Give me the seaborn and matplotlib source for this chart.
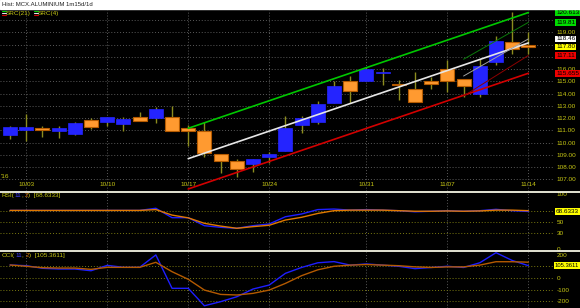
import numpy as np
import pandas as pd
import matplotlib
matplotlib.use("Agg")
import matplotlib.pyplot as plt
import seaborn as sns
from matplotlib.lines import Line2D
from matplotlib.patches import Rectangle
import matplotlib.transforms as mtrans

# ---------------- data ----------------
dates = ["09/30", "10/03", "10/04", "10/05", "10/06", "10/07", "10/10", "10/11", "10/12",
         "10/13", "10/14", "10/17", "10/18", "10/19", "10/20", "10/21", "10/24", "10/25",
         "10/26", "10/27", "10/28", "10/30", "10/31", "11/01", "11/02", "11/03", "11/04",
         "11/07", "11/08", "11/09", "11/10", "11/11", "11/14"]
opens = [110.62, 111.03, 111.19, 110.94, 110.72, 111.84, 111.68, 111.49, 112.06, 111.98, 112.06,
         111.19, 110.97, 109.04, 108.52, 108.22, 108.82, 109.31, 111.41, 111.70, 113.23, 115.00,
         115.00, 115.65, 114.80, 114.35, 115.02, 116.00, 115.16, 113.99, 116.60, 118.23, 117.90]
highs = [111.37, 112.33, 111.37, 111.35, 111.68, 112.00, 112.09, 112.11, 112.49, 112.93, 112.98,
         111.40, 111.70, 109.06, 108.68, 108.68, 109.23, 112.17, 112.17, 113.42, 115.05, 115.46,
         116.19, 116.11, 115.10, 115.73, 115.38, 116.74, 115.16, 116.82, 118.69, 120.64, 119.05]
lows = [110.27, 110.13, 110.48, 110.35, 110.64, 111.10, 111.35, 110.97, 111.78, 111.62, 110.97,
        109.75, 108.85, 107.49, 107.16, 107.62, 108.31, 109.31, 110.80, 111.49, 113.23, 113.20,
        115.00, 114.67, 113.47, 113.33, 114.40, 114.15, 113.69, 113.69, 116.33, 117.26, 117.20]
closes = [111.25, 111.25, 111.02, 111.16, 111.57, 111.29, 112.09, 111.90, 111.78, 112.74, 110.97,
          110.94, 109.17, 108.49, 107.82, 108.63, 109.04, 111.21, 111.98, 113.17, 114.62, 114.24,
          116.00, 115.78, 114.67, 113.33, 114.78, 115.05, 114.64, 116.27, 118.29, 117.64, 117.80]

rsi = [70.5, 70.5, 70.5, 70.5, 70.5, 70.5, 70.5, 70.5, 70.5, 74.4, 57.3, 57.3, 42.7, 39.8, 38.0,
       42.7, 45.8, 59.0, 64.0, 72.0, 73.0, 71.0, 72.0, 71.0, 70.0, 68.0, 69.0, 70.0, 69.0, 70.0,
       72.5, 70.0, 68.63]
rsi_sig = [70.5, 70.5, 70.5, 70.5, 70.5, 70.5, 70.5, 70.5, 70.5, 72.0, 62.0, 57.0, 47.0, 42.0, 38.0,
           41.0, 43.5, 53.0, 58.0, 65.0, 70.0, 71.0, 71.0, 71.0, 70.0, 69.0, 69.0, 69.5, 69.0, 69.5,
           71.0, 71.0, 70.0]
cci = [111, 105, 83, 77, 77, 62, 108, 91, 91, 197, -88, -88, -237, -202, -160, -94, -60, 40,
       90, 130, 140, 110, 120, 110, 100, 80, 90, 100, 90, 130, 216, 150, 105.36]
cci_sig = [111, 100, 88, 85, 85, 74, 91, 91, 91, 134, 54, -11, -103, -140, -145, -131, -103, -46,
           20, 70, 100, 110, 115, 110, 105, 95, 90, 95, 95, 110, 139, 139, 135]

src21_x = [11, 32]
src21_mid = [108.68, 118.13]
src21_up = [111.16, 120.613]
src21_lo = [106.205, 115.655]
src4_x = [28, 32]
src4_mid = [115.43, 118.46]
src4_up = [116.80, 119.81]
src4_lo = [113.80, 117.11]

date_ticks = ["10/03", "10/10", "10/17", "10/24", "10/31", "11/07", "11/14"]
price_ticks = [107, 108, 109, 110, 111, 112, 113, 114, 115, 116, 119]
price_boxes = [(120.613, "120.613", "#00dd00"), (119.81, "119.81", "#00dd00"),
               (118.46, "118.46", "#ffffff"), (117.80, "117.80", "#ffff00"),
               (117.11, "117.11", "#ee0000"), (115.655, "115.655", "#ee0000")]

# ---------------- style ----------------
sns.set_style("dark", {"axes.facecolor": "black", "figure.facecolor": "black",
                       "axes.grid": False})
plt.rcParams['font.family'] = ['Liberation Sans', 'DejaVu Sans']

YEL = "#c8c814"
BLUE = "#2424ff"
ORANGE = "#ff9a30"
WICK = "#8c8c1e"
GRID = "#5a5a5a"
OLIVE_GRID = "#7a7a10"
FS = 4.6

W, H = 580, 308
fig = plt.figure(figsize=(W / 100, H / 100), dpi=100, facecolor="black")


def fy(ypx):
    return 1 - ypx / H


def px_axes(top, bottom, left=0, right=553):
    return fig.add_axes([left / W, 1 - bottom / H, (right - left) / W, (bottom - top) / H])


ax = px_axes(10, 191)
ax_rsi = px_axes(192, 250)
ax_cci = px_axes(252, 308)

n = len(dates)
xs = np.arange(n)
tick_pos = [dates.index(d) for d in date_ticks]

for a in (ax, ax_rsi, ax_cci):
    a.set_facecolor("black")
    a.set_xlim(-0.62, 33.52)
    for s in a.spines.values():
        s.set_visible(False)
    a.tick_params(axis="x", bottom=False, labelbottom=False)
    a.yaxis.tick_right()
    a.tick_params(axis="y", right=False, left=False, labelright=True, labelleft=False,
                  labelsize=FS, colors=YEL, pad=2.5, length=0)
    for t in tick_pos:
        a.axvline(t, color=GRID, lw=0.7, ls=(0, (1, 2)), zorder=0)

# ---------------- main panel ----------------
ax.set_ylim(106.04, 120.82)
for p in range(107, 121):
    ax.axhline(p, color=GRID, lw=0.7, ls=(0, (1, 2)), zorder=0)
ax.set_yticks(price_ticks)
ax.set_yticklabels([f"{p:.2f}" for p in price_ticks])

df = pd.DataFrame({"x": xs, "open": opens, "high": highs, "low": lows, "close": closes})
up = (df["close"] >= df["open"]).to_numpy()
body_lo = np.minimum(df["open"], df["close"]).to_numpy()
body_h = np.maximum((df["close"] - df["open"]).abs().to_numpy(), 0.13)
ax.vlines(xs, df["low"], df["high"], color=WICK, lw=1.0, zorder=2)
ax.bar(xs[up], body_h[up], bottom=body_lo[up], width=0.86, color=BLUE, edgecolor=BLUE,
       lw=0.5, zorder=3)
ax.bar(xs[~up], body_h[~up], bottom=body_lo[~up], width=0.86, color=ORANGE,
       edgecolor="#b45a00", lw=0.8, zorder=3)

for yv, c, lw in ((src21_up, "#00c800", 1.2), (src21_mid, "#e6e6e6", 1.2), (src21_lo, "#d20000", 1.2)):
    sns.lineplot(x=src21_x, y=yv, ax=ax, color=c, lw=lw, zorder=4, legend=False)
for yv, c, lw in ((src4_up, "#0a7a0a", 0.7), (src4_mid, "#a0a0a0", 0.7), (src4_lo, "#8c0000", 0.7)):
    sns.lineplot(x=src4_x, y=yv, ax=ax, color=c, lw=lw, zorder=4, legend=False)
ax.set_xlabel("")
ax.set_ylabel("")

# date labels
dtrans = mtrans.blended_transform_factory(ax.transData, fig.transFigure)
for d, t in zip(date_ticks, tick_pos):
    fig.text(t, fy(184), d, transform=dtrans, ha="center", va="center", fontsize=FS, color=YEL)
fig.text(1 / W, fy(176), "'16", ha="left", va="center", fontsize=FS, color=YEL)

# price boxes
btrans = mtrans.blended_transform_factory(fig.transFigure, ax.transData)
for v, lab, c in price_boxes:
    fig.text(556 / W, v, lab, transform=btrans, ha="left", va="center", fontsize=FS, color="black",
             bbox=dict(boxstyle="square,pad=0.12", fc=c, ec="none"))

# ---------------- RSI panel ----------------
ax_rsi.set_ylim(-1.5, 104)
for g in (30, 50, 70):
    ax_rsi.axhline(g, color=OLIVE_GRID, lw=0.7, ls=(0, (1, 2)), zorder=0)
sns.lineplot(x=xs, y=rsi, ax=ax_rsi, color="#1e1eff", lw=1.0, zorder=3, legend=False)
sns.lineplot(x=xs, y=rsi_sig, ax=ax_rsi, color="#e07800", lw=1.0, zorder=4, legend=False)
ax_rsi.set_yticks([0, 30, 50, 100])
ax_rsi.set_yticklabels(["0", "30", "50", "100"])
ax_rsi.set_xlabel("")
ax_rsi.set_ylabel("")
rtrans = mtrans.blended_transform_factory(fig.transFigure, ax_rsi.transData)
fig.text(556 / W, rsi[-1], "68.6333", transform=rtrans, ha="left", va="center", fontsize=FS,
         color="black", bbox=dict(boxstyle="square,pad=0.12", fc="#ffff00", ec="none"))

# ---------------- CCI panel ----------------
ax_cci.set_ylim(-256, 222)
for g in (100, 0, -100, -200):
    ax_cci.axhline(g, color=OLIVE_GRID, lw=0.7, ls=(0, (1, 2)), zorder=0)
sns.lineplot(x=xs, y=cci, ax=ax_cci, color="#1e1eff", lw=1.0, zorder=3, legend=False)
sns.lineplot(x=xs, y=cci_sig, ax=ax_cci, color="#b45a00", lw=1.0, zorder=4, legend=False)
ax_cci.set_yticks([-200, -100, 0, 200])
ax_cci.set_yticklabels(["-200", "-100", "0", "200"])
ax_cci.set_xlabel("")
ax_cci.set_ylabel("")
ctrans = mtrans.blended_transform_factory(fig.transFigure, ax_cci.transData)
fig.text(555 / W, cci[-1], "105.3611", transform=ctrans, ha="left", va="center", fontsize=4.2,
         color="black", bbox=dict(boxstyle="square,pad=0.12", fc="#ffff00", ec="none"))

# ---------------- frame / titles ----------------
fig.add_artist(Rectangle((0, fy(9)), 1, 9 / H, transform=fig.transFigure, color="white", zorder=5))
fig.text(2 / W, fy(4.2), "Hist: MCX.ALUMINIUM 1m15d/1d", ha="left", va="center", fontsize=4.3,
         color="#202020", zorder=6)
for ysep in (191.5, 251.2):
    fig.add_artist(Line2D([0, 1], [fy(ysep), fy(ysep)], color="#f4f4e4", lw=1.3,
                          transform=fig.transFigure, zorder=6))

# legend
for x0 in (1.5, 33.5):
    for dy, c in ((-2, "#00c800"), (0, "#e6e6e6"), (2, "#d20000")):
        fig.add_artist(Line2D([x0 / W, (x0 + 4) / W], [fy(13 + dy), fy(13 + dy)], color=c, lw=0.8,
                              transform=fig.transFigure))
fig.text(6 / W, fy(13), "SRC(21)", ha="left", va="center", fontsize=FS, color=YEL)
fig.text(38 / W, fy(13), "SRC(4)", ha="left", va="center", fontsize=FS, color=YEL)

# multi-colour indicator titles
renderer = fig.canvas.get_renderer()


def multi_text(x_px, y_px, parts):
    x = x_px
    for s, c in parts:
        t = fig.text(x / W, fy(y_px), s, ha="left", va="center", fontsize=FS, color=c)
        x += t.get_window_extent(renderer=renderer).width


multi_text(2, 195.5, [("RSI(", YEL), ("11", "#4040ff"), (", ", YEL), ("2", "#e07800"),
                      (")  [68.6333]", YEL)])
multi_text(2, 255.5, [("CCI(", YEL), ("11", "#4040ff"), (", ", YEL), ("2", "#e07800"),
                      (")  [105.3611]", YEL)])

fig.savefig("out.png", dpi=100, facecolor="black")
